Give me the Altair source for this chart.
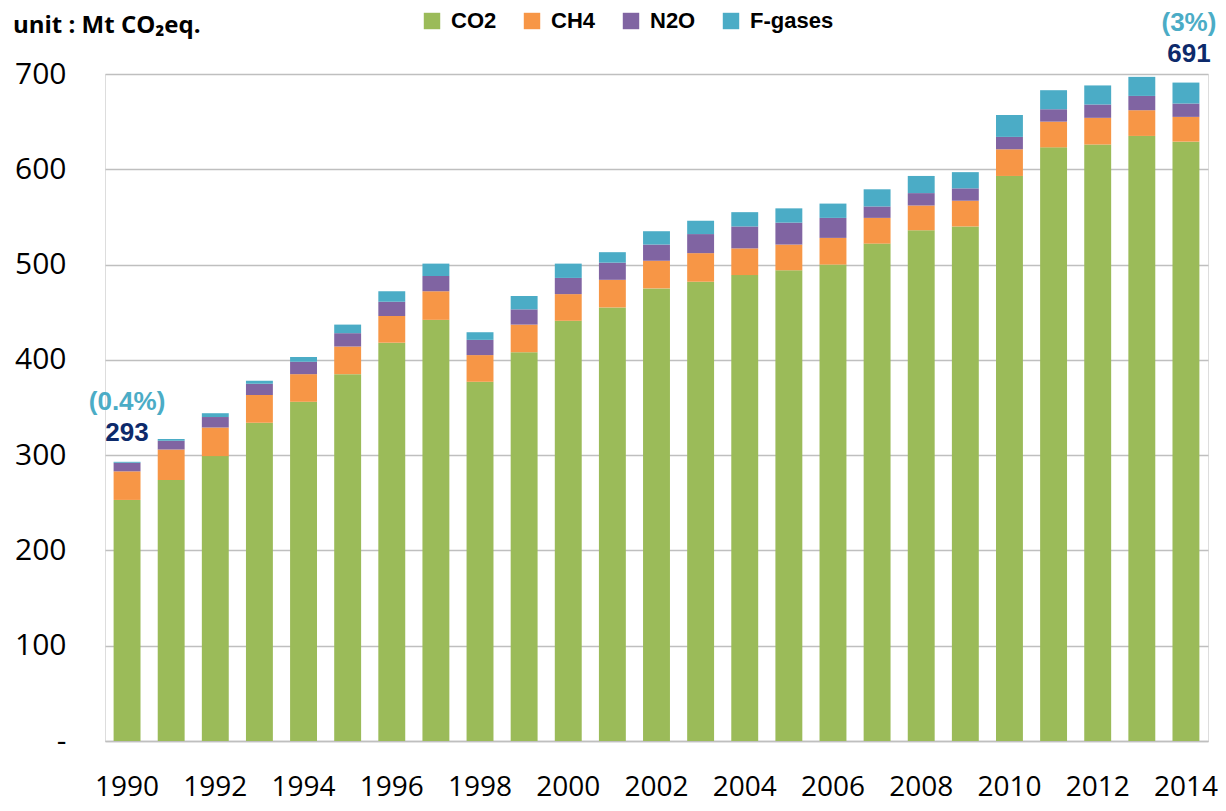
import altair as alt
import pandas as pd

years = ["1990", "1991", "1992", "1993", "1994", "1995", "1996", "1997", "1998",
         "1999", "2000", "2001", "2002", "2003", "2004", "2005", "2006", "2007",
         "2008", "2009", "2010", "2011", "2012", "2013", "2014"]
co2 = [253, 274, 299, 334, 356, 385, 418, 442, 377, 408, 441, 455, 475, 482, 489,
       494, 500, 522, 536, 540, 593, 623, 626, 635, 629]
ch4 = [30, 32, 30, 29, 29, 29, 28, 30, 28, 29, 28, 29, 29, 30, 28, 27, 28, 27, 26,
       27, 28, 27, 28, 27, 26]
n2o = [9, 9, 11, 12, 13, 14, 15, 16, 16, 16, 17, 18, 17, 20, 23, 23, 21, 12, 13,
       13, 13, 13, 14, 15, 14]
fgas = [1, 2, 4, 3, 5, 9, 11, 13, 8, 14, 15, 11, 14, 14, 15, 15, 15, 18, 18, 17,
        23, 20, 20, 20, 22]

gases = ["CO2", "CH4", "N2O", "F-gases"]
gas_colors = ["#9BBB59", "#F79646", "#8064A2", "#4BACC6"]
series = [co2, ch4, n2o, fgas]

y_ticks = [0, 100, 200, 300, 400, 500, 600, 700]
unit_label = "unit : Mt CO\u2082eq."

ann_years = ["1990", "2014"]
ann_totals = [293, 691]
ann_values = ["293", "691"]
ann_shares = ["(0.4%)", "(3%)"]

rows = []
for gi, (g, vals) in enumerate(zip(gases, series)):
    for y, v in zip(years, vals):
        rows.append({"year": y, "gas": g, "value": v, "ord": gi})
df = pd.DataFrame(rows)

FONT = "Open Sans"
BOLD_FONT = "Liberation Sans"

x_enc = alt.X("year:O", title="",
              scale=alt.Scale(paddingInner=0.39, paddingOuter=0.195),
              axis=alt.Axis(labelAngle=0, domain=True, domainColor="#BFBFBF",
                            domainWidth=1.5, ticks=False, grid=False,
                            labelFont=FONT, labelFontSize=28, labelColor="#000000",
                            labelPadding=32, labelBaseline="top",
                            labelExpr="parseInt(datum.value) % 2 == 0 ? datum.label : ''"))

y_scale = alt.Scale(domain=[0, 700], nice=False)

bars = alt.Chart(df).mark_bar().encode(
    x=x_enc,
    y=alt.Y("value:Q", stack="zero", title="", scale=y_scale,
            axis=alt.Axis(values=y_ticks, grid=True, gridColor="#BFBFBF",
                          gridWidth=1.5, domain=False, ticks=False,
                          labelFont=FONT, labelFontSize=30, labelColor="#000000",
                          labelPadding=39,
                          labelExpr="datum.value == 0 ? '-\u00a0' : datum.label")),
    color=alt.Color("gas:N", scale=alt.Scale(domain=gases, range=gas_colors),
                    legend=alt.Legend(title=None, orient="none", direction="horizontal",
                                      columns=4, legendX=316, legendY=-64,
                                      symbolType="square", symbolSize=270,
                                      symbolStrokeWidth=0, symbolOpacity=1,
                                      labelFont=BOLD_FONT, labelFontSize=22,
                                      labelFontWeight="bold", labelColor="#000000",
                                      labelOffset=8, columnPadding=24, padding=0)),
    order=alt.Order("ord:Q", sort="ascending"),
)

layers = [bars]
for i in range(len(ann_years)):
    adf = pd.DataFrame({"year": [ann_years[i]], "total": [ann_totals[i]],
                        "val": [ann_values[i]], "share": [ann_shares[i]]})
    dx = 0 if i == 0 else 3
    val_txt = alt.Chart(adf).mark_text(font=BOLD_FONT, fontSize=26, fontWeight="bold",
                                       color="#0D2A6B", baseline="alphabetic",
                                       dy=-21, dx=dx).encode(
        x="year:O", y=alt.Y("total:Q", scale=y_scale), text="val:N")
    share_txt = alt.Chart(adf).mark_text(font=BOLD_FONT, fontSize=26, fontWeight="bold",
                                         color="#4BACC6", baseline="alphabetic",
                                         dy=-52, dx=dx).encode(
        x="year:O", y=alt.Y("total:Q", scale=y_scale), text="share:N")
    layers += [val_txt, share_txt]

title_df = pd.DataFrame({"t": [unit_label]})
title_txt = alt.Chart(title_df).mark_text(font=FONT, fontSize=24, fontWeight="bold",
                                          color="#000000", align="left",
                                          baseline="alphabetic").encode(
    x=alt.value(-92), y=alt.value(-41), text="t:N")
layers.append(title_txt)

chart = alt.layer(*layers).properties(
    width=1103, height=667,
    autosize=alt.AutoSizeParams(type="none"),
    padding={"left": 97, "top": 66, "right": 10, "bottom": 63},
).configure_view(strokeWidth=0).configure(font=FONT)

chart.save("out.html", embed_options={"renderer": "svg", "actions": False})
